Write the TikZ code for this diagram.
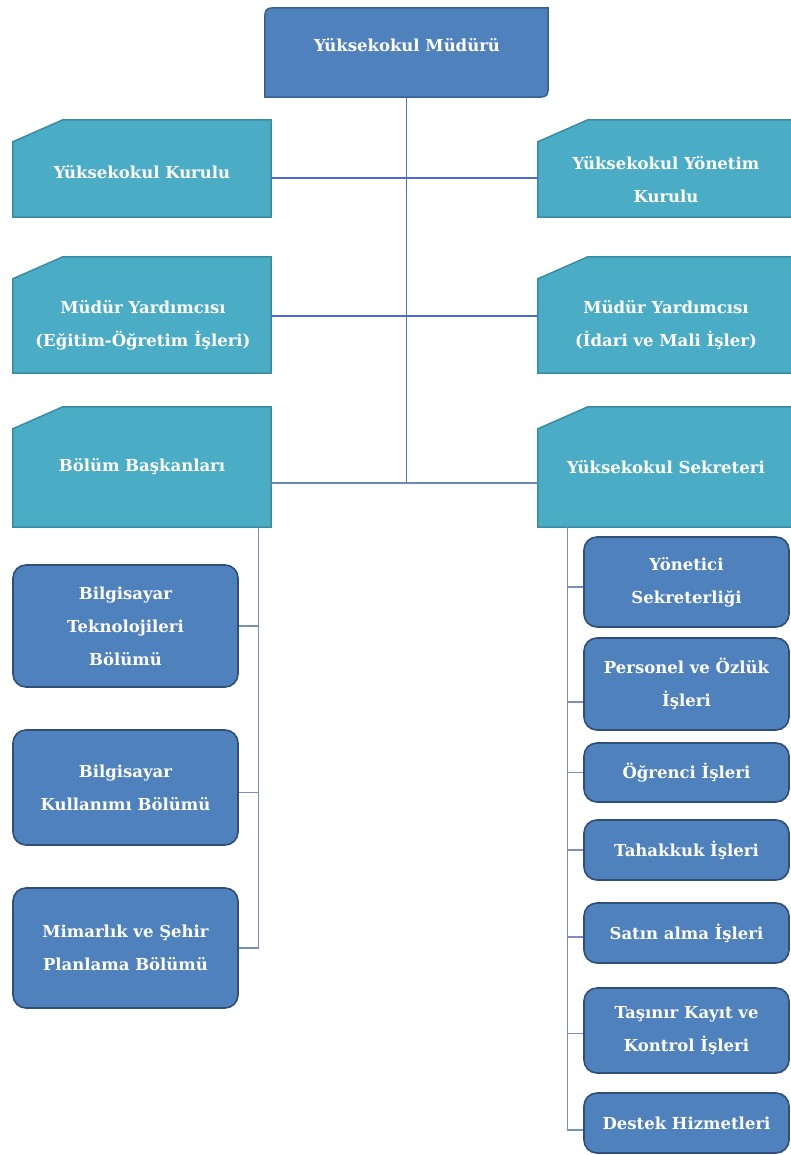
\documentclass[tikz,border=0pt]{standalone}
\usepackage{fontspec}
\setmainfont{DejaVu Serif}
\definecolor{topblue}{HTML}{4F81BD}
\definecolor{topedge}{HTML}{3A5F8C}
\definecolor{bluedge}{HTML}{2F4E78}
\definecolor{tealf}{HTML}{4BACC6}
\definecolor{tealedge}{HTML}{3A8CA2}
\definecolor{mainline}{HTML}{4A6CD4}
\definecolor{midline}{HTML}{6F86C4}
\definecolor{subline}{HTML}{7A8EBD}
\pgfdeclarelayer{background}
\pgfsetlayers{background,main}
\tikzset{
  lbl/.style={font=\bfseries\fontsize{16.5}{33}\selectfont},
  holder/.style={rectangle, draw=none, inner sep=0pt},
  txt/.style={lbl, text=white, align=center, inner sep=0pt},
  bluebox/.style={rectangle, rounded corners=13pt, fill=topblue, draw=bluedge,
    line width=1.6pt, text=white, lbl, align=center, inner sep=0pt},
  topshape/.style={fill=topblue, draw=topedge, line width=1.5pt},
  tealshape/.style={fill=tealf, draw=tealedge, line width=1.5pt},
  mline/.style={draw=mainline, line width=1.2pt},
  hline/.style={draw=midline, line width=1.2pt},
  sline/.style={draw=subline, line width=1.2pt},
}
\begin{document}
\begin{tikzpicture}[x=1pt,y=-1pt]
\useasboundingbox (0,0) rectangle (791,1155);
% holders for shaped boxes
\node[holder, minimum width=283, minimum height=89] (mud) at (406.5,52.5) {};
\node[holder, minimum width=258, minimum height=97] (kur) at (142,168.5) {};
\node[holder, minimum width=262, minimum height=97] (yon) at (669,168.5) {};
\node[holder, minimum width=258, minimum height=116] (my1) at (142,315) {};
\node[holder, minimum width=262, minimum height=116] (my2) at (669,315) {};
\node[holder, minimum width=258, minimum height=120] (bol) at (142,467) {};
\node[holder, minimum width=262, minimum height=120] (sek) at (669,467) {};
% texts
\node[txt] (mud-t) at (407,45) {Yüksekokul Müdürü};
\node[txt] (kur-t) at (142,172) {Yüksekokul Kurulu};
\node[txt] (yon-t) at (666,180) {Yüksekokul Yönetim\\Kurulu};
\node[txt] (my1-t) at (143,325) {Müdür Yardımcısı\\(Eğitim-Öğretim İşleri)};
\node[txt] (my2-t) at (666,325) {Müdür Yardımcısı\\(İdari ve Mali İşler)};
\node[txt] (bol-t) at (142,467) {Bölüm Başkanları};
\node[txt] (sek-t) at (666,467) {Yüksekokul Sekreteri};
% left blue boxes
\node[bluebox, minimum width=225, minimum height=122] (bt) at (125.5,626) {Bilgisayar\\Teknolojileri\\Bölümü};
\node[bluebox, minimum width=225, minimum height=115] (bk) at (125.5,787.5) {Bilgisayar\\Kullanımı Bölümü};
\node[bluebox, minimum width=225, minimum height=120] (mim) at (125.5,948) {Mimarlık ve Şehir\\Planlama Bölümü};
% right blue boxes
\node[bluebox, minimum width=205, minimum height=90] (ys) at (686.5,582) {Yönetici\\Sekreterliği};
\node[bluebox, minimum width=205, minimum height=92] (pe) at (686.5,684) {Personel ve Özlük\\İşleri};
\node[bluebox, minimum width=205, minimum height=59] (og) at (686.5,772.5) {Öğrenci İşleri};
\node[bluebox, minimum width=205, minimum height=60] (ta) at (686.5,850) {Tahakkuk İşleri};
\node[bluebox, minimum width=205, minimum height=60] (sa) at (686.5,933) {Satın alma İşleri};
\node[bluebox, minimum width=205, minimum height=85] (tk) at (686.5,1030.5) {Taşınır Kayıt ve\\Kontrol İşleri};
\node[bluebox, minimum width=205, minimum height=60] (de) at (686.5,1123) {Destek Hizmetleri};
% shapes
\begin{pgfonlayer}{background}
\fill[white] (0,0) rectangle (791,1155);
\filldraw[topshape] ([yshift=-15pt]mud.north west) .. controls (mud.north west) .. ([xshift=15pt]mud.north west)
  -- (mud.north east) -- ([yshift=15pt]mud.south east) .. controls (mud.south east) .. ([xshift=-15pt]mud.south east)
  -- (mud.south west) -- cycle;
\foreach \n in {kur,yon,my1,my2,bol,sek}
  \filldraw[tealshape] (\n.south west) -- ([yshift=-22pt]\n.north west) -- ([xshift=50pt]\n.north west)
    -- (\n.north east) -- (\n.south east) -- cycle;
\end{pgfonlayer}
% main connectors
\coordinate (h3) at ([yshift=-16pt]bol.east);
\draw[mline] (mud.south) -- (h3 -| mud.south);
\draw[mline] ([yshift=-9.5pt]kur.east) -- ([yshift=-9.5pt]yon.west);
\draw[mline] ([yshift=-1pt]my1.east) -- ([yshift=-1pt]my2.west);
\draw[hline] (h3) -- ([yshift=-16pt]sek.west);
% left subtree
\coordinate (lbus) at ([xshift=-13pt]bol.south east);
\draw[sline] (lbus) |- (mim.east);
\draw[sline] (bt.east) -- (bt.east -| lbus);
\draw[sline] ([yshift=-5pt]bk.east) -- ([yshift=-5pt]bk.east -| lbus);
% right subtree
\coordinate (rbus) at ([xshift=30pt]sek.south west);
\draw[sline] (rbus) |- ([yshift=-7pt]de.west);
\foreach \n/\d in {ys/-5,pe/-18,og/0,ta/0,sa/-4,tk/-3}
  \draw[sline] ([yshift=\d pt]\n.west) -- ([yshift=\d pt]\n.west -| rbus);
\end{tikzpicture}
\end{document}
